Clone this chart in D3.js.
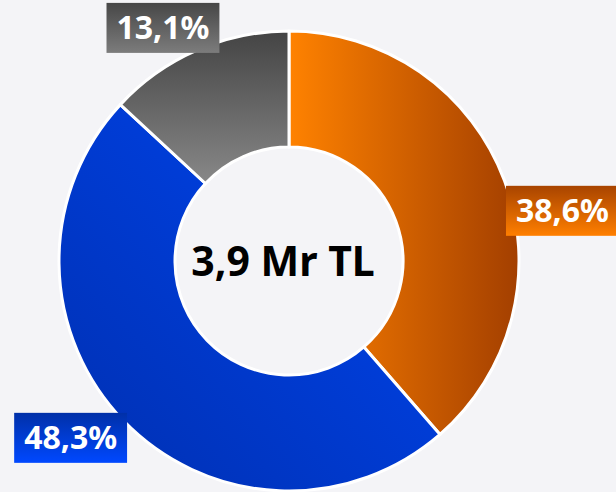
<!DOCTYPE html>
<html>
<head>
<meta charset="utf-8">
<script src="https://cdn.jsdelivr.net/npm/d3@7"></script>
<style>
  html, body { margin: 0; padding: 0; background: #f4f4f7; }
  svg { display: block; }
</style>
</head>
<body>
<div id="chart"></div>
<script>
// data
const categories = ['orange', 'blue', 'gray']
const values = [38.6, 48.3, 13.1]
const labels = ['38,6%', '48,3%', '13,1%']
const centerLabel = '3,9 Mr TL'

// layout
const width = 616
const height = 492
const cx = 289
const cy = 261
const outerR = 230
const innerR = 114
// label center: angle (deg, clockwise from top) and distance from center
const labelPolar = [[79.6, 278], [231, 281], [331.6, 265]]

const svg = d3.select('#chart').append('svg')
    .attr('width', width).attr('height', height)

const defs = svg.append('defs')
// gradients for slices and label boxes
const grads = {
    orange: { x1: 0, y1: 0, x2: 1, y2: 0, stops: ['#ff8200', '#a33f00'] },
    blue: { x1: 1, y1: 0, x2: 0, y2: 1, stops: ['#0046f2', '#002fb0'] },
    gray: { x1: 0, y1: 0, x2: 0, y2: 1, stops: ['#444444', '#888888'] },
    orangeLbl: { x1: 0, y1: 0, x2: 0, y2: 1, stops: ['#a84400', '#ff7f00'] },
    blueLbl: { x1: 0, y1: 0, x2: 0, y2: 1, stops: ['#0030a8', '#0048ff'] },
    grayLbl: { x1: 0, y1: 0, x2: 0, y2: 1, stops: ['#474747', '#7c7c7c'] }
}
Object.entries(grads).forEach(([id, g]) => {
    const lg = defs.append('linearGradient').attr('id', 'g-' + id)
        .attr('x1', g.x1).attr('y1', g.y1).attr('x2', g.x2).attr('y2', g.y2)
    lg.append('stop').attr('offset', 0).attr('stop-color', g.stops[0])
    lg.append('stop').attr('offset', 1).attr('stop-color', g.stops[1])
})

const pie = d3.pie().sort(null).value(d => d)
const arcs = pie(values)
const arc = d3.arc().innerRadius(innerR).outerRadius(outerR)

const g = svg.append('g').attr('transform', `translate(${cx}, ${cy})`)

g.selectAll('path')
    .data(arcs)
    .enter().append('path')
    .attr('d', arc)
    .attr('fill', (d, i) => `url(#g-${categories[i]})`)
    .attr('stroke', '#ffffff')
    .attr('stroke-width', 3)
    .attr('stroke-linejoin', 'round')

// middentekst
g.append('text')
    .attr('text-anchor', 'middle')
    .attr('x', -6)
    .attr('y', 15)
    .attr('font-family', 'Noto Sans, sans-serif')
    .attr('font-weight', 700)
    .attr('font-size', 41)
    .attr('fill', '#000')
    .text(centerLabel)

// labels met achtergrond
const lbl = g.selectAll('g.lbl')
    .data(arcs)
    .enter().append('g')
    .attr('class', 'lbl')
    .attr('transform', (d, i) => {
        const a = labelPolar[i][0] * Math.PI / 180
        const r = labelPolar[i][1]
        return `translate(${r * Math.sin(a)}, ${-r * Math.cos(a)})`
    })

const texts = lbl.append('text')
    .attr('text-anchor', 'middle')
    .attr('y', 11)
    .attr('font-family', 'Noto Sans, sans-serif')
    .attr('font-weight', 700)
    .attr('font-size', 32)
    .attr('fill', '#fff')
    .text((d, i) => labels[i])

texts.each(function (d, i) {
    const w = this.getComputedTextLength() + 20
    d3.select(this.parentNode).insert('rect', 'text')
        .attr('x', -w / 2).attr('y', -25)
        .attr('width', w).attr('height', 50)
        .attr('fill', `url(#g-${categories[i]}Lbl)`)
})
</script>
</body>
</html>
